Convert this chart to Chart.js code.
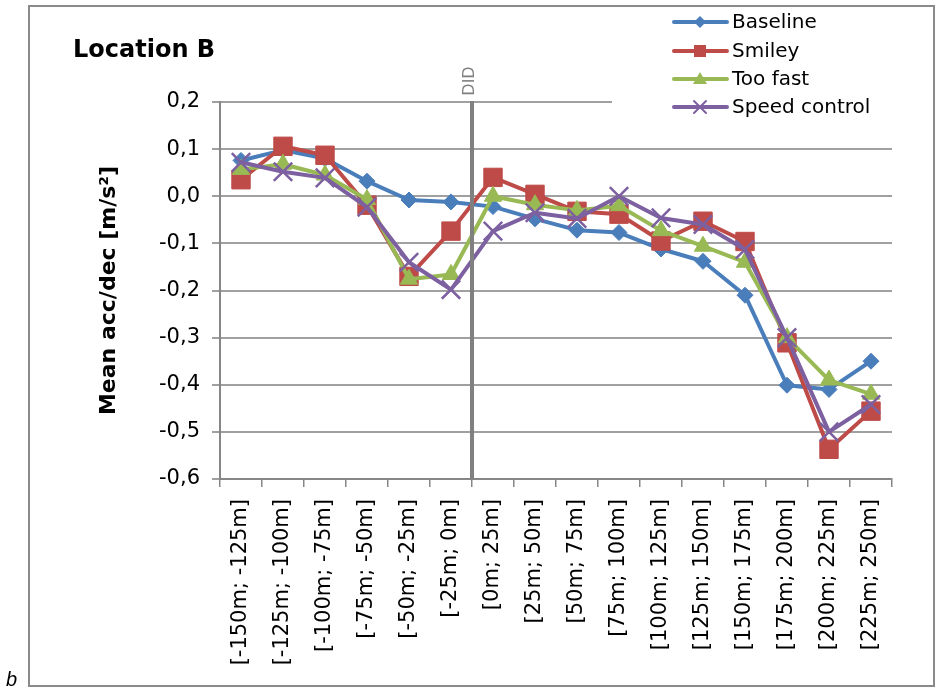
<!DOCTYPE html>
<html>
<head>
<meta charset="utf-8">
<title>Location B</title>
<script src="https://cdn.jsdelivr.net/npm/chart.js"></script>
<style>
  body { margin: 0; background: #fff; }
  #wrap { width: 936px; height: 688px; }
</style>
</head>
<body>
<div id="wrap"><canvas id="myChart" width="936" height="688"></canvas></div>
<script>
// distance bands along the road
var labels = ['[-150m; -125m]', '[-125m; -100m]', '[-100m; -75m]', '[-75m; -50m]',
    '[-50m; -25m]', '[-25m; 0m]', '[0m; 25m]', '[25m; 50m]', '[50m; 75m]', '[75m; 100m]',
    '[100m; 125m]', '[125m; 150m]', '[150m; 175m]', '[175m; 200m]', '[200m; 225m]', '[225m; 250m]'];

// mean acceleration / deceleration per band [m/s2]
var baseline = [0.076, 0.098, 0.08, 0.032, -0.008, -0.012, -0.022, -0.048, -0.072, -0.077, -0.112, -0.138, -0.21, -0.401, -0.41, -0.35];
var smiley = [0.035, 0.106, 0.087, -0.019, -0.17, -0.074, 0.04, 0.004, -0.032, -0.038, -0.095, -0.053, -0.096, -0.311, -0.537, -0.456];
var tooFast = [0.057, 0.068, 0.045, -0.007, -0.176, -0.166, 0.0, -0.018, -0.03, -0.02, -0.073, -0.106, -0.14, -0.3, -0.39, -0.42];
var speedControl = [0.072, 0.052, 0.039, -0.023, -0.14, -0.198, -0.074, -0.035, -0.047, 0.0, -0.046, -0.06, -0.113, -0.3, -0.5, -0.442];

// y axis range and step
var yMin = -0.6;
var yMax = 0.2;
var yStep = 0.1;

// the DID sign sits between these two bands
var didBefore = 5;
var didAfter = 6;

var gridGray = '#a0a0a0';
var axisGray = '#868686';
var font = '"DejaVu Sans", Verdana, sans-serif';

function makeSeries(label, data, color, style, radius, order) {
    return {
        label: label,
        data: data,
        borderColor: color,
        backgroundColor: color,
        borderWidth: 4,
        borderJoinStyle: 'round',
        borderCapStyle: 'round',
        pointStyle: style,
        pointRadius: radius,
        pointBackgroundColor: color,
        pointBorderColor: color,
        pointBorderWidth: style == 'crossRot' ? 2.5 : 1,
        tension: 0,
        order: order
    };
}

// small marker for the legend rows
function drawMarker(ctx, style, x, y, r, color) {
    ctx.save();
    ctx.fillStyle = color;
    ctx.strokeStyle = color;
    ctx.lineWidth = 2;
    ctx.beginPath();
    if (style == 'rectRot') {
        ctx.moveTo(x - r, y); ctx.lineTo(x, y - r); ctx.lineTo(x + r, y); ctx.lineTo(x, y + r);
        ctx.closePath(); ctx.fill();
    } else if (style == 'rect') {
        ctx.rect(x - r, y - r, 2 * r, 2 * r); ctx.fill();
    } else if (style == 'triangle') {
        ctx.moveTo(x, y - r); ctx.lineTo(x + r, y + r * 0.7); ctx.lineTo(x - r, y + r * 0.7);
        ctx.closePath(); ctx.fill();
    } else {
        ctx.moveTo(x - r, y - r); ctx.lineTo(x + r, y + r);
        ctx.moveTo(x + r, y - r); ctx.lineTo(x - r, y + r);
        ctx.stroke();
    }
    ctx.restore();
}

// frame, title, axis title, legend and the DID line
var decorations = {
    id: 'decorations',
    afterDraw: function(chart) {
        var ctx = chart.ctx;
        var area = chart.chartArea;
        var xs = chart.scales.x;
        ctx.save();

        // outer frame
        ctx.strokeStyle = '#8a8a8a';
        ctx.lineWidth = 2;
        ctx.strokeRect(29, 6, 905, 680);

        // DID marker line
        var xd = (xs.getPixelForValue(didBefore) + xs.getPixelForValue(didAfter)) / 2;
        ctx.strokeStyle = '#808080';
        ctx.lineWidth = 4;
        ctx.beginPath();
        ctx.moveTo(xd, area.top - 1);
        ctx.lineTo(xd, area.bottom);
        ctx.stroke();

        ctx.save();
        ctx.translate(xd - 2, 81);
        ctx.rotate(-Math.PI / 2);
        ctx.fillStyle = '#7f7f7f';
        ctx.font = '16px ' + font;
        ctx.textAlign = 'center';
        ctx.textBaseline = 'middle';
        ctx.fillText('DID', 0, 0);
        ctx.restore();

        // chart title
        ctx.fillStyle = '#000';
        ctx.font = 'bold 24px ' + font;
        ctx.textAlign = 'left';
        ctx.textBaseline = 'alphabetic';
        ctx.fillText('Location B', 73, 57);

        // y axis title
        ctx.save();
        ctx.translate(109, (area.top + area.bottom) / 2);
        ctx.rotate(-Math.PI / 2);
        ctx.font = 'bold 22px ' + font;
        ctx.textAlign = 'center';
        ctx.textBaseline = 'middle';
        ctx.fillText('Mean acc/dec [m/s\u00b2]', 0, 0);
        ctx.restore();

        // legend box covers the top gridline on the right
        ctx.fillStyle = '#fff';
        ctx.fillRect(612, 8, 318, 112);
        var rowY = [22, 51, 79, 107];
        var small = [6, 6, 7, 6];
        chart.data.datasets.forEach(function(ds, i) {
            var y = rowY[i];
            ctx.strokeStyle = ds.borderColor;
            ctx.lineWidth = 4;
            ctx.lineCap = 'round';
            ctx.beginPath();
            ctx.moveTo(674, y);
            ctx.lineTo(727, y);
            ctx.stroke();
            drawMarker(ctx, ds.pointStyle, 700, y, small[i], ds.borderColor);
            ctx.fillStyle = '#000';
            ctx.font = '20px ' + font;
            ctx.textAlign = 'left';
            ctx.textBaseline = 'middle';
            ctx.fillText(ds.label, 732, y + 1);
        });

        // panel letter
        ctx.fillStyle = '#000';
        ctx.font = 'italic 20px "Liberation Sans", sans-serif';
        ctx.textAlign = 'left';
        ctx.textBaseline = 'alphabetic';
        ctx.fillText('b', 6, 686);

        ctx.restore();
    }
};

function createChart() {
    var ctx = document.getElementById('myChart');
    new Chart(ctx, {
        type: 'line',
        data: {
            labels: labels,
            datasets: [
                makeSeries('Baseline', baseline, '#4a7ebb', 'rectRot', 8, 4),
                makeSeries('Smiley', smiley, '#be4b48', 'rect', 13, 3),
                makeSeries('Too fast', tooFast, '#98b954', 'triangle', 10, 2),
                makeSeries('Speed control', speedControl, '#7d60a0', 'crossRot', 13, 1)
            ]
        },
        options: {
            responsive: false,
            animation: false,
            devicePixelRatio: 1,
            layout: { padding: { left: 0, right: 44, top: 102, bottom: 0 } },
            plugins: {
                legend: { display: false },
                title: { display: false },
                tooltip: { enabled: false }
            },
            scales: {
                x: {
                    type: 'category',
                    offset: true,
                    grid: {
                        offset: true,
                        drawOnChartArea: false,
                        color: axisGray,
                        lineWidth: 1.5,
                        tickLength: 8
                    },
                    border: { color: axisGray, width: 2 },
                    ticks: {
                        autoSkip: false,
                        minRotation: 90,
                        maxRotation: 90,
                        padding: 12,
                        color: '#000',
                        font: { family: font, size: 21 }
                    },
                    afterFit: function(scale) { scale.height = 209; }
                },
                y: {
                    min: yMin,
                    max: yMax,
                    grid: { color: gridGray, lineWidth: 2, tickLength: 8 },
                    border: { color: axisGray, width: 2 },
                    ticks: {
                        stepSize: yStep,
                        padding: 12,
                        color: '#000',
                        font: { family: font, size: 21 },
                        callback: function(v) {
                            if (Math.abs(v) < 1e-9) v = 0;
                            return v.toFixed(1).replace('.', ',');
                        }
                    },
                    afterFit: function(scale) { scale.width = 220; }
                }
            }
        },
        plugins: [decorations]
    });
}

createChart();
</script>
</body>
</html>
